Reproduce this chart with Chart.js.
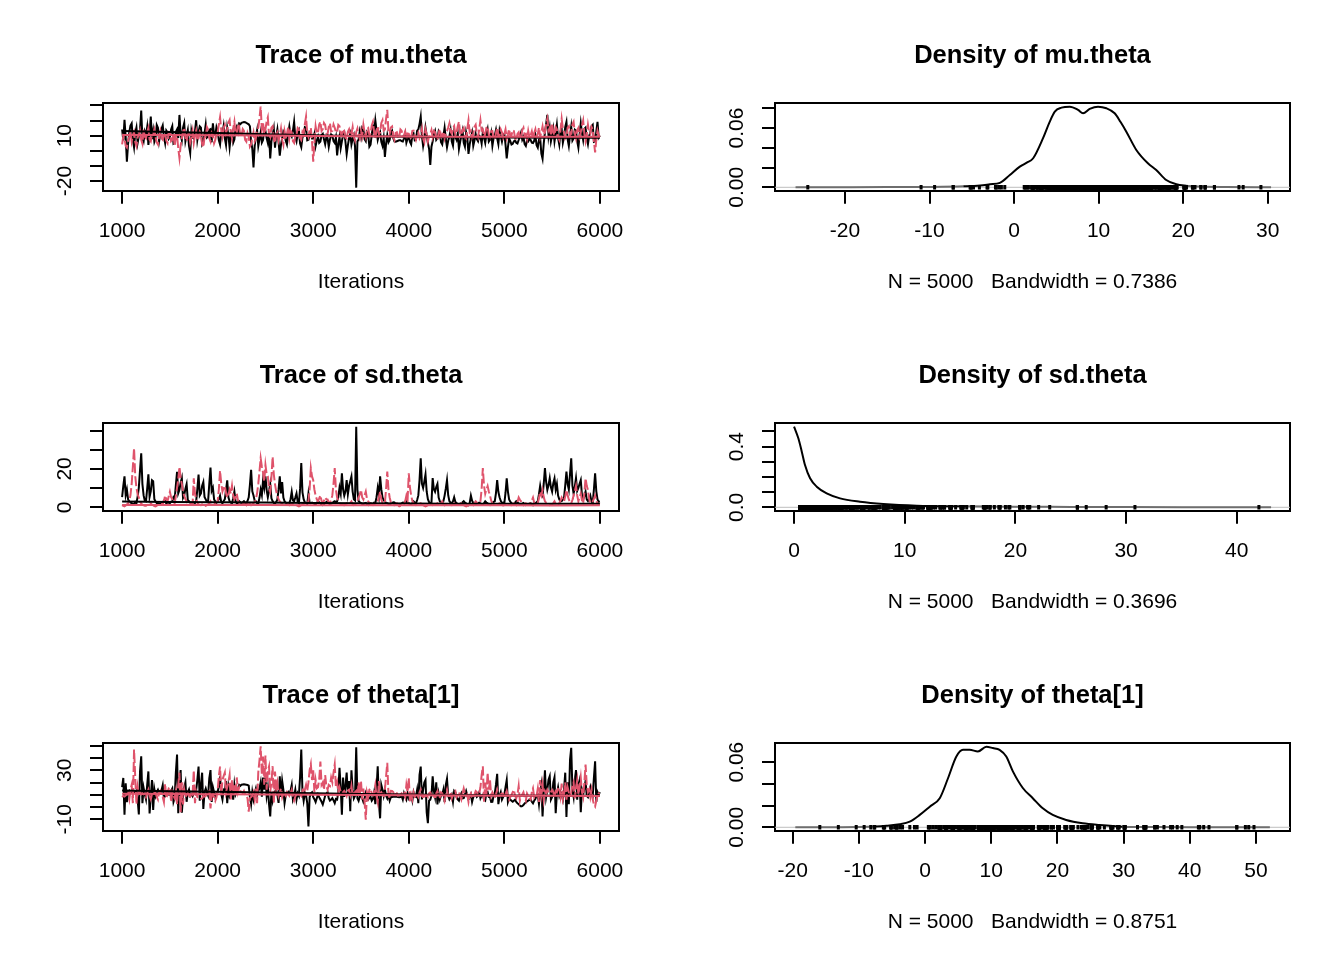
<!DOCTYPE html>
<html>
<head>
<meta charset="utf-8">
<script src="https://cdn.jsdelivr.net/npm/chart.js@4.4.1/dist/chart.umd.min.js"></script>
<style>
html,body{margin:0;padding:0;background:#fff;}
body{width:1344px;height:960px;position:relative;overflow:hidden;}
.p{position:absolute;}
.p canvas{display:block;}
</style>
</head>
<body>
<div class="p" style="left:0;top:0;width:722px;height:320px"><canvas id="c1"></canvas></div>
<div class="p" style="left:721px;top:0;width:623px;height:320px"><canvas id="c2"></canvas></div>
<div class="p" style="left:0;top:320px;width:722px;height:320px"><canvas id="c3"></canvas></div>
<div class="p" style="left:721px;top:320px;width:623px;height:320px"><canvas id="c4"></canvas></div>
<div class="p" style="left:0;top:640px;width:722px;height:320px"><canvas id="c5"></canvas></div>
<div class="p" style="left:721px;top:640px;width:623px;height:320px"><canvas id="c6"></canvas></div>
<script>
// ---------------- DATA ----------------
const ITER_FIRST = 1000;
const ITER_STEP = 12.5;
const TRACE_X_TICKS = [1000, 2000, 3000, 4000, 5000, 6000];
const SMOOTH_X = [1000, 2000, 3000, 4000, 5000, 6000];

// mu.theta traces (chain 1 black, chain 2 red)
const MU_CHAIN1 = [
14.2,6.8,20.4,9.1,-7.2,4.6,12.3,16.7,18.1,7.4,2.3,11.8,15.4,5.2,9.6,13.9,26.6,8.3,6.1,12.7,
10.4,15.8,3.9,11.2,22.6,7.7,13.3,5.9,8.2,17.1,15.3,6.4,11.1,14.6,16.8,9.3,5.1,13.4,12.2,7.9,
9.2,14.1,16.3,4.8,5.4,12.6,14.2,8.5,23.7,10.9,7.1,15.2,18.3,6.3,10.1,13.7,3.2,-1.5,13.1,8.8,
8.1,12.9,20.2,7.3,12.4,16.1,15.2,4.4,6.2,11.5,17.3,8.7,9.4,13.8,14.3,5.6,18.2,10.6,10.3,15.7,
13.2,6.9,4.1,11.7,11.3,16.4,8.2,3.8,15.1,10.2,2.2,9.8,12.1,5.3,7.4,14.6,16.2,12.8,18.1,17.6,
18.5,18.8,19.0,18.9,18.4,18.0,17.5,16.2,6.1,1.4,-11.0,3.3,9.2,13.6,3.1,7.8,12.2,5.4,7.1,14.4,
13.1,8.4,5.2,11.6,-5.1,6.2,10.3,14.7,2.1,9.6,14.2,5.7,-3.2,3.9,8.3,12.8,11.4,6.6,4.2,10.9,
16.1,10.7,9.3,13.2,19.1,8.9,6.2,11.4,13.4,4.7,2.3,8.8,10.2,15.6,15.3,6.9,7.2,10.6,12.3,8.1,
8.2,11.3,3.1,6.7,9.3,5.2,6.1,10.4,11.2,7.6,4.3,9.1,8.4,2.6,7.3,10.8,10.1,6.4,5.2,8.9,
-3.1,4.4,9.2,1.7,6.3,10.6,12.1,5.8,-2.2,3.6,8.3,11.2,4.1,7.7,10.2,2.9,-24.4,6.2,7.4,12.9,
9.1,15.3,14.2,7.6,6.3,12.4,11.2,2.8,4.1,10.7,16.2,12.6,20.1,13.3,7.2,10.4,12.2,5.9,3.3,8.6,
-4.1,4.7,10.3,5.6,7.2,12.1,13.3,8.4,6.2,6.0,6.3,6.6,6.9,7.0,6.4,6.1,8.2,11.4,5.3,7.9,
9.3,5.8,4.2,10.1,11.4,6.9,7.3,13.2,14.1,17.8,22.6,9.7,3.2,8.1,15.3,10.2,5.1,1.3,-9.4,2.7,
6.2,10.8,13.1,7.2,8.3,12.9,11.3,5.6,4.2,9.7,15.2,8.1,2.3,6.6,9.4,13.7,6.1,3.4,12.3,9.2,
7.3,11.6,1.2,5.8,10.1,13.4,5.2,2.7,12.2,8.6,-2.1,4.3,8.2,11.9,3.3,6.8,11.2,7.7,6.3,9.9,
9.1,4.8,12.3,8.7,5.2,10.9,14.2,6.1,7.3,11.6,3.2,8.4,10.1,13.8,8.3,4.4,13.2,9.6,6.1,10.3,
11.2,4.1,-5.1,2.3,8.2,6.4,4.1,4.6,6.2,6.9,5.3,4.8,7.1,9.6,12.2,7.3,9.1,4.4,3.2,6.7,
6.1,7.8,7.2,5.3,5.1,6.6,10.2,3.7,2.1,7.4,8.3,-1.8,-5.2,4.9,12.1,17.6,23.7,9.8,15.2,6.3,
10.2,14.6,6.1,11.3,17.2,8.4,4.1,12.7,14.3,5.3,9.2,15.8,19.1,7.6,3.2,10.4,16.1,6.7,8.2,13.9,
13.2,6.4,2.1,10.6,18.2,11.7,7.1,14.4,15.3,8.2,4.3,9.8,12.1,16.3,17.2,5.9,6.2,12.6,19.1,8.8,
10.1];
const MU_CHAIN2 = [
4.2,9.6,8.1,3.3,2.2,6.8,9.3,12.6,6.1,10.2,12.4,5.7,3.1,8.9,10.2,13.3,7.2,4.6,14.1,9.4,
8.3,12.2,15.1,7.4,6.2,10.8,11.3,14.2,9.1,5.6,4.2,9.9,13.1,8.2,7.3,11.6,10.3,6.7,5.1,12.4,
12.1,6.3,7.2,11.4,3.1,9.7,10.2,1.6,-4.8,3.4,8.1,12.7,15.2,8.6,6.3,10.9,11.2,5.4,9.1,13.2,
5.2,10.1,13.3,6.7,8.2,12.6,11.1,4.3,2.2,8.9,9.3,15.7,14.1,8.2,6.1,11.8,10.4,4.9,7.2,11.3,
12.2,17.4,22.1,13.6,9.3,15.2,17.1,11.8,14.2,18.6,20.3,12.1,8.2,14.7,19.2,10.6,11.3,17.9,16.1,9.8,
10.2,14.3,13.1,7.2,6.1,11.7,9.3,2.8,4.2,8.6,12.1,6.3,8.2,13.6,15.3,21.4,29.2,14.1,18.3,11.2,
14.2,19.3,22.1,10.2,9.1,15.3,16.2,7.4,5.1,10.9,12.3,6.8,10.1,14.6,7.2,3.9,13.1,9.4,11.2,15.7,
8.2,13.3,12.1,6.4,5.2,9.8,10.3,15.1,14.2,8.3,7.1,12.6,11.2,17.8,22.6,11.3,9.2,13.9,15.1,6.2,
-7.2,5.3,16.1,11.4,12.2,17.3,19.2,13.1,14.3,18.4,17.2,11.6,11.1,15.8,18.2,12.7,13.1,17.4,15.2,12.3,
12.2,17.1,16.3,11.2,10.1,14.4,13.2,8.7,8.1,12.6,14.2,10.3,11.1,15.6,9.2,6.8,12.3,14.7,10.1,7.9,
13.1,9.6,17.2,12.3,9.1,14.8,15.2,10.4,11.3,16.7,19.1,12.2,8.1,13.6,16.2,10.9,12.1,18.3,20.2,13.4,
14.1,21.2,27.1,12.3,11.2,15.4,16.1,9.2,7.1,11.8,12.2,8.6,9.3,14.1,13.2,9.7,10.3,12.8,8.2,11.4,
11.2,7.4,9.1,13.2,13.3,9.6,7.2,10.3,12.1,8.3,10.2,14.6,8.1,5.7,14.2,10.8,6.1,9.4,11.1,13.7,
9.2,13.1,12.2,8.3,7.1,11.6,14.3,9.2,10.1,12.7,8.2,11.9,13.1,15.4,18.2,12.6,11.2,14.9,16.3,10.7,
12.1,16.2,19.2,11.7,10.3,13.8,15.1,9.4,8.2,14.6,20.1,12.2,13.2,9.1,11.3,15.8,17.2,11.4,9.1,14.3,
20.2,13.4,14.1,9.3,11.2,15.2,16.1,10.7,9.2,12.9,13.1,8.4,7.2,11.6,15.3,9.8,10.2,14.1,12.2,8.7,
11.1,14.2,8.2,10.9,14.3,9.6,10.2,13.7,13.1,8.4,7.1,11.2,12.2,8.9,9.3,13.6,15.2,10.4,11.1,7.8,
13.2,9.1,10.2,12.8,8.3,11.7,14.2,9.6,11.1,15.3,9.2,12.4,16.1,10.8,12.2,17.6,21.1,13.4,15.2,10.1,
18.2,12.1,10.3,15.6,14.1,9.2,7.3,13.4,21.1,14.8,12.2,8.1,9.3,15.2,16.1,10.4,11.2,17.3,19.1,11.6,
8.2,13.7,15.1,9.4,12.2,16.8,20.1,11.3,6.2,10.6,17.2,12.1,11.3,15.8,14.2,6.3,-1.1,7.4,13.2,10.2,
9.1];
const MU_SMOOTH1 = [13.1, 11.8, 10.2, 9.3, 8.8, 8.6];
const MU_SMOOTH2 = [10.5, 10.3, 9.8, 9.4, 9.2, 9.2];

// sd.theta traces
const SD_CHAIN1 = [
5.3,11.2,16.1,6.3,9.2,4.1,3.1,2.4,2.2,1.7,1.5,2.8,2.1,5.6,10.3,19.4,28.2,12.1,6.2,3.4,
3.1,9.8,17.2,5.4,8.3,14.1,13.6,4.2,3.1,2.2,2.1,1.8,1.5,2.3,2.6,3.4,3.2,1.9,2.1,2.7,
2.2,2.9,3.1,5.2,4.3,11.6,18.5,7.3,9.1,12.8,15.2,4.9,6.2,9.7,12.1,3.8,3.2,2.4,2.1,2.6,
2.5,2.2,3.1,9.6,17.1,6.1,7.2,11.3,13.2,5.4,4.1,2.8,3.2,12.4,20.7,8.6,10.2,4.1,3.1,2.3,
3.2,4.3,6.1,2.7,2.1,3.3,4.2,8.9,14.1,5.2,3.1,2.4,2.2,4.6,8.2,3.1,2.1,1.8,3.2,2.6,
2.1,2.6,3.2,2.4,2.1,3.3,5.2,11.7,19.5,8.3,6.1,3.4,3.1,2.2,2.1,4.8,9.2,6.3,14.1,10.2,
16.2,9.1,5.2,8.4,12.1,4.7,3.2,2.3,2.1,2.8,4.1,9.3,16.1,7.2,13.2,5.1,3.1,2.4,2.2,1.8,
2.1,4.2,8.1,3.6,3.2,5.1,7.2,2.8,2.1,9.6,23.1,7.8,4.2,2.6,2.1,1.7,7.2,2.2,2.1,2.4,
2.1,1.8,1.5,2.3,3.1,2.6,2.2,1.3,1.1,1.6,2.2,2.7,3.1,2.1,1.6,1.9,2.1,2.9,3.2,2.4,
3.1,5.2,10.2,7.1,17.7,9.4,6.1,8.3,14.2,6.8,11.1,13.6,16.1,8.2,4.2,3.6,42.0,9.1,3.2,2.6,
2.2,1.7,1.5,2.1,2.3,1.4,1.1,1.6,2.1,1.8,1.5,2.4,2.2,5.3,10.1,6.2,16.1,9.3,5.2,3.6,
3.1,2.3,2.1,1.7,1.5,1.9,2.2,2.6,2.5,1.8,1.5,1.2,1.1,1.6,2.1,2.4,2.2,2.8,3.1,2.3,
2.1,1.8,1.5,2.2,3.1,2.4,2.1,3.8,6.2,14.1,25.6,12.3,10.1,13.4,17.2,8.1,4.2,2.7,2.1,2.5,
15.2,9.4,8.1,10.6,12.2,5.1,3.1,2.4,2.1,3.2,6.1,9.8,14.2,6.3,3.2,2.4,2.1,3.1,5.2,2.8,
2.2,1.8,1.5,1.9,2.1,2.6,3.2,2.4,2.1,1.4,1.1,2.3,6.1,3.4,2.2,1.7,1.5,1.9,2.1,2.4,
2.1,1.7,1.5,2.2,3.1,2.5,2.1,1.4,1.1,1.6,2.2,2.8,3.1,7.4,14.2,8.1,5.2,3.3,2.1,2.4,
2.1,7.6,15.1,8.2,4.1,2.9,2.2,1.8,1.5,2.4,3.2,2.6,2.1,1.7,1.5,1.9,2.2,1.6,1.1,1.4,
1.6,1.9,2.1,1.4,1.1,1.7,2.2,2.6,3.1,6.8,11.2,7.4,6.1,12.3,20.4,13.2,9.1,11.6,15.2,10.4,
8.2,12.6,15.1,9.3,12.2,6.1,4.2,3.1,3.2,4.1,5.1,11.4,18.6,12.1,9.2,17.4,25.6,11.3,7.1,10.8,
15.2,8.6,10.1,12.3,14.2,6.3,4.1,5.9,8.2,4.1,3.2,4.4,6.1,3.1,2.2,9.4,17.7,8.3,4.1,2.9,
3.1];
const SD_CHAIN2 = [
1.1,0.7,0.5,0.9,1.5,2.1,3.2,6.4,12.1,21.3,30.8,16.2,10.1,6.8,5.1,2.9,2.1,1.3,1.1,0.8,
0.8,1.2,1.5,2.3,2.1,1.4,1.1,0.6,0.5,0.9,1.1,1.6,2.1,1.8,1.5,3.2,6.1,4.2,3.1,5.6,
8.1,5.3,4.2,2.6,2.1,5.7,10.2,14.6,21.1,15.3,12.2,8.4,6.1,4.3,3.1,1.8,1.1,1.4,2.1,1.6,
15.1,7.2,4.1,2.3,1.5,1.2,1.1,1.6,2.1,1.3,0.8,1.1,1.5,2.2,3.1,1.7,1.1,1.4,2.1,2.6,
3.1,9.4,19.1,12.3,8.2,10.1,11.2,7.3,5.1,6.6,9.2,7.1,11.3,6.2,4.1,5.3,7.2,3.4,2.1,2.6,
1.6,1.3,2.1,1.6,1.1,2.2,3.1,1.8,1.1,1.5,2.2,2.8,4.1,7.3,12.2,18.6,25.6,21.2,18.1,13.4,
22.1,17.3,16.2,9.8,8.1,15.6,26.4,17.2,12.1,8.3,6.2,4.1,3.1,2.4,2.1,1.4,1.1,1.3,1.5,1.8,
1.1,1.6,2.1,1.7,1.5,1.2,1.1,0.7,0.5,0.8,1.1,1.4,2.1,1.8,1.5,2.2,3.1,9.6,20.4,16.1,
14.1,9.2,6.1,4.2,3.1,4.6,6.2,3.3,2.1,3.4,5.1,4.2,4.1,2.6,2.1,3.8,6.2,12.4,20.4,9.3,
5.1,3.2,2.1,1.7,1.5,1.2,1.1,1.6,2.1,1.8,1.5,2.3,3.1,1.6,1.1,1.4,2.1,3.3,5.1,6.8,
9.1,5.2,4.1,6.3,8.2,4.4,3.1,2.3,2.1,1.4,1.1,1.6,2.1,2.7,3.1,5.4,8.1,4.2,2.1,1.7,
2.1,9.8,18.6,9.2,5.1,2.6,1.5,1.2,1.1,1.6,2.1,1.1,0.5,0.8,1.1,1.3,1.5,3.2,6.1,3.9,
17.7,10.2,6.1,3.3,2.1,1.6,1.1,1.3,1.5,1.9,2.1,1.4,1.1,0.7,0.5,0.8,1.1,1.6,2.1,1.5,
1.1,1.3,1.5,1.8,2.1,1.5,1.1,2.2,3.1,1.7,1.1,1.4,2.1,1.8,1.5,1.2,1.1,1.6,2.1,1.4,
1.5,1.2,1.1,1.6,2.1,1.5,1.1,0.7,0.5,0.8,1.1,1.6,2.1,1.4,1.1,2.2,3.1,2.5,2.1,2.6,
3.1,9.6,20.4,11.2,7.1,9.3,11.1,8.2,6.1,3.4,2.1,1.4,1.1,1.3,1.5,1.8,2.1,1.4,1.1,0.9,
1.1,1.6,2.1,1.8,1.5,1.2,1.1,1.6,2.1,1.4,1.1,2.8,5.1,3.9,3.1,1.8,1.1,1.4,2.1,1.7,
1.5,1.8,2.1,3.6,5.1,2.4,1.1,1.6,2.1,4.8,8.1,6.2,9.1,5.3,3.1,2.4,2.1,1.5,1.1,1.3,
1.5,2.2,3.1,1.8,1.1,1.6,2.1,3.4,5.1,3.9,3.1,5.8,9.1,6.2,4.1,2.6,2.1,3.8,6.1,8.4,
11.1,6.2,3.1,5.2,7.1,3.6,2.1,7.4,15.1,11.2,9.1,4.3,2.1,2.6,3.1,4.4,6.1,3.2,2.1,1.7,
1.5];
const SD_SMOOTH1 = [3.0, 2.6, 2.3, 2.0, 1.8, 1.8];
const SD_SMOOTH2 = [1.2, 1.2, 1.1, 1.1, 1.0, 1.0];

// theta[1] traces
const TH_CHAIN1 = [
16.2,23.8,-6.3,19.4,4.1,12.2,13.4,11.8,12.1,12.6,12.4,11.9,13.1,6.2,-6.1,29.3,41.5,3.2,15.7,10.4,
6.3,18.2,29.1,-5.2,8.4,22.1,-2.3,14.6,9.1,12.3,14.2,11.6,11.2,13.8,17.9,7.2,9.4,12.6,13.1,10.2,
10.1,13.4,15.2,4.2,7.6,28.4,42.9,-5.1,20.3,30.2,-4.6,8.3,16.1,20.2,4.3,12.1,14.4,9.2,10.6,8.9,
11.2,12.8,14.1,22.3,33.1,5.2,18.4,28.1,-1.6,12.2,15.1,11.4,9.3,23.6,30.2,4.1,16.3,12.1,8.2,10.9,
12.3,17.2,25.1,10.6,6.2,14.1,13.2,21.3,3.2,16.4,9.1,11.8,14.3,6.1,18.2,10.2,12.6,15.1,18.1,17.3,
18.3,18.5,18.6,18.4,18.2,18.0,17.5,8.2,2.1,12.3,6.2,11.4,15.2,9.6,13.1,15.3,20.2,8.4,24.1,14.2,
24.2,9.3,16.1,2.4,-7.6,12.1,5.3,11.2,12.6,14.1,9.8,3.4,25.1,8.2,21.4,14.3,3.2,9.6,11.1,12.4,
10.1,13.2,18.1,6.2,9.3,14.2,6.1,11.3,9.2,24.6,47.1,12.2,5.1,11.6,9.4,3.2,-15.9,8.1,11.2,12.1,
8.2,6.4,4.1,7.2,10.3,8.1,6.2,4.3,2.1,5.6,9.2,10.8,12.1,7.3,5.2,6.1,7.3,5.4,3.2,6.6,
6.1,12.2,32.1,16.3,-6.2,24.1,8.3,17.4,28.2,10.1,21.3,-3.4,30.1,14.2,7.1,9.3,48.9,7.2,5.1,8.4,
9.1,7.3,4.2,6.8,11.3,8.2,6.1,7.4,8.3,5.2,6.6,12.1,2.3,14.6,33.3,3.1,-9.2,18.1,14.2,9.1,
14.1,9.2,7.1,10.2,5.2,8.1,8.3,8.4,8.5,8.6,8.5,8.3,8.1,8.2,9.1,6.2,11.3,8.4,6.1,11.2,
7.2,9.4,10.1,5.3,12.1,8.6,8.2,14.1,3.2,26.4,33.1,6.2,14.1,20.1,22.2,-4.3,-13.1,5.2,6.1,9.3,
25.1,13.2,8.1,20.2,2.1,11.3,6.2,9.4,10.1,14.2,4.1,18.2,23.1,9.2,6.3,8.1,10.2,4.3,13.2,12.1,
8.1,6.3,5.2,9.1,11.2,7.1,7.3,10.2,13.1,9.4,6.2,8.1,10.3,4.2,8.2,9.1,11.4,8.3,9.2,12.1,
7.2,9.3,10.1,6.2,5.3,11.4,12.2,8.3,8.1,4.2,4.3,9.1,11.2,18.3,27.1,2.4,9.2,12.1,6.1,8.2,
10.2,16.3,22.1,4.2,7.1,6.2,5.1,4.3,5.2,6.1,4.2,3.1,2.4,1.2,0.6,0.8,1.6,2.9,3.8,4.6,
5.2,5.8,6.1,4.3,3.1,5.2,6.8,9.2,10.1,2.3,12.3,18.1,-7.7,12.2,30.1,8.2,14.1,22.3,25.2,6.1,
8.2,20.1,24.3,-5.1,11.2,16.2,9.1,12.3,10.2,6.1,14.2,28.1,-8.2,20.3,2.4,38.8,48.4,14.2,8.3,22.1,
30.2,6.1,18.2,22.1,-4.3,14.2,10.1,15.3,21.4,9.2,8.1,12.3,16.2,11.1,9.3,24.1,37.4,4.2,12.3,10.1,
12.2];
const TH_CHAIN2 = [
8.2,9.1,8.6,9.4,10.2,11.3,6.4,14.2,18.1,3.2,47.1,24.2,2.3,16.1,9.2,12.1,10.3,11.2,10.4,11.1,
8.3,11.2,14.1,9.2,6.3,10.4,10.1,12.3,11.8,8.2,6.1,12.2,13.4,9.1,8.3,4.2,19.1,7.3,10.2,15.4,
16.1,4.2,12.1,9.3,7.2,13.1,2.3,18.2,28.1,-4.2,20.3,2.1,14.2,8.3,10.1,11.2,9.4,8.6,11.3,10.2,
30.1,3.2,12.2,8.1,7.3,6.2,6.8,7.1,9.2,8.6,9.1,10.2,12.4,13.1,-1.2,9.2,10.1,8.3,5.2,8.1,
14.1,25.2,33.1,10.2,22.1,25.3,28.2,12.1,16.2,20.1,26.1,6.2,22.3,14.1,18.2,9.1,24.2,12.3,16.1,13.2,
12.2,11.4,13.1,10.2,9.1,7.2,-3.8,7.3,8.2,9.3,12.1,6.2,15.1,3.2,28.3,38.1,49.7,26.2,41.3,18.2,
42.1,14.2,29.3,33.1,12.2,20.1,33.4,3.2,29.1,15.2,20.1,9.2,12.1,15.3,8.2,11.4,10.2,9.1,12.3,11.2,
9.2,11.3,14.1,8.2,5.3,8.6,10.2,11.3,12.1,10.4,9.1,12.6,16.2,14.1,18.1,13.2,20.1,30.2,35.1,22.1,
30.1,12.2,22.1,15.3,16.2,22.4,37.1,18.2,20.1,14.2,26.1,17.3,14.2,18.1,17.2,24.1,20.1,28.2,34.7,16.1,
20.2,12.1,16.2,12.3,11.2,12.1,13.2,11.6,9.1,13.4,14.2,10.1,17.2,9.8,11.3,12.1,13.2,8.1,20.1,10.2,
21.1,6.2,15.1,4.2,-10.4,12.1,8.2,14.1,15.2,11.1,9.8,12.2,18.1,9.2,4.1,21.2,11.3,12.2,10.1,9.2,
14.1,25.2,36.1,10.2,7.1,13.2,13.1,12.2,9.1,10.3,11.2,9.4,10.1,10.3,11.2,9.6,11.1,8.2,18.1,12.1,
23.8,4.2,10.1,6.2,12.1,8.4,9.1,10.2,8.3,12.1,14.2,9.1,8.2,8.6,9.1,9.3,8.2,11.3,12.1,10.2,
10.1,9.2,6.3,11.2,13.1,9.1,8.2,12.1,11.3,8.2,5.1,10.3,14.1,9.2,9.1,12.3,7.2,10.1,12.2,13.1,
8.1,10.2,12.3,9.1,6.2,11.1,15.2,11.3,9.2,10.3,4.1,9.1,11.2,8.1,7.2,10.3,13.1,12.2,10.1,11.2,
16.2,26.1,33.3,4.2,20.1,10.2,28.1,14.2,22.1,9.3,12.1,10.2,7.2,10.1,14.1,9.2,9.1,10.3,11.2,10.8,
8.1,10.2,13.1,9.2,6.1,8.3,10.1,12.2,14.1,9.1,7.2,10.1,17.2,5.1,9.3,10.2,12.1,8.1,5.2,11.1,
9.1,7.2,6.1,12.1,15.3,8.2,10.1,9.2,15.1,4.2,22.1,10.1,18.2,6.1,13.1,11.2,14.2,12.1,11.1,12.3,
14.1,12.2,8.1,13.1,12.2,15.1,16.2,9.1,19.1,6.2,10.1,20.2,6.1,16.1,12.1,9.2,12.1,17.1,20.2,7.1,
15.2,22.1,10.2,16.2,24.1,12.2,8.1,20.2,34.7,18.1,12.1,14.3,8.2,14.1,6.1,2.2,0.5,5.1,9.1,11.2,
11.1];
const TH_SMOOTH1 = [13.5, 12.5, 11.3, 10.2, 9.5, 9.2];
const TH_SMOOTH2 = [10.8, 10.5, 10.1, 9.7, 9.3, 9.0];

// density curves
const MU_DENS_X = [-25.85,-20,-15,-10,-6,-4,-2.85,-1.68,-0.5,0.68,1.5,2.26,3.44,4.2,4.82,5.61,6.59,7.57,8.16,8.95,9.93,10.92,11.9,12.6,13.28,14.46,15.83,16.82,18.0,19.19,20.37,22,25,30.4];
const MU_DENS_Y = [0,0.0001,0.0002,0.0004,0.001,0.0018,0.003,0.0045,0.0125,0.0209,0.025,0.0294,0.05,0.066,0.0766,0.0806,0.0816,0.0783,0.0749,0.0793,0.0816,0.08,0.0749,0.066,0.0563,0.0378,0.0243,0.0175,0.0074,0.003,0.0016,0.0008,0.0003,0];
const SD_DENS_X = [0,0.39,0.7,0.99,1.45,2.05,2.95,4.16,5.96,8.07,11.08,15.6,20,25,30,35,43.1];
const SD_DENS_Y = [0.532,0.455,0.367,0.279,0.191,0.136,0.092,0.059,0.037,0.022,0.011,0.007,0.004,0.0025,0.0012,0.0006,0];
const TH_DENS_X = [-19.6,-15,-10,-7.5,-5.82,-3.81,-2.31,-0.8,0.71,2.22,3.47,4.73,5.73,6.74,7.99,9.26,10.25,11.26,12.27,13.27,14.77,16.28,17.79,19.3,21.32,23.82,26.34,29.8,35,42,52.1];
const TH_DENS_Y = [0,0.0001,0.0003,0.0008,0.0015,0.0028,0.0052,0.0114,0.019,0.0268,0.0452,0.0652,0.0714,0.0714,0.0699,0.0742,0.073,0.0714,0.0652,0.0515,0.0362,0.0268,0.0175,0.0114,0.0068,0.0037,0.0021,0.0006,0.0002,0.0001,0];

// axis ticks & labels
const MU_TRACE_Y_TICKS = [-20,-10,0,10,20,30];
const MU_TRACE_Y_LABELS = {"-20":"-20","10":"10"};
const SD_TRACE_Y_TICKS = [0,10,20,30,40];
const SD_TRACE_Y_LABELS = {"0":"0","20":"20"};
const TH_TRACE_Y_TICKS = [-10,0,10,20,30,40,50];
const TH_TRACE_Y_LABELS = {"-10":"-10","30":"30"};
const MU_DENS_X_TICKS = [-20,-10,0,10,20,30];
const MU_DENS_Y_TICKS = [0,0.02,0.04,0.06,0.08];
const MU_DENS_Y_LABELS = {"0":"0.00","0.06":"0.06"};
const SD_DENS_X_TICKS = [0,10,20,30,40];
const SD_DENS_Y_TICKS = [0,0.1,0.2,0.3,0.4,0.5];
const SD_DENS_Y_LABELS = {"0":"0.0","0.4":"0.4"};
const TH_DENS_X_TICKS = [-20,-10,0,10,20,30,40,50];
const TH_DENS_Y_TICKS = [0,0.02,0.04,0.06];
const TH_DENS_Y_LABELS = {"0":"0.00","0.06":"0.06"};

// ---------------- STYLE / LAYOUT ----------------
const FAMILY = "'Liberation Sans', Arial, Helvetica, sans-serif";
Chart.defaults.font.family = FAMILY;
Chart.defaults.color = '#000';
const FONT_AX = 21, FONT_TITLE = 25.5, TICK_LEN = 13, LW = 2, TRACE_LW = 2;
const LABEL_CENTER_OFFSET = 38;
const RED = '#DF536B';

const mctx = document.createElement('canvas').getContext('2d');
function widestLabel(labels) {
  mctx.font = FONT_AX + 'px ' + FAMILY;
  let w = 0;
  labels.forEach(l => { if (l) w = Math.max(w, mctx.measureText(l).width); });
  return w;
}
const xy = (xs, ys) => xs.map((x, i) => ({x: x, y: ys[i]}));
const traceXY = ys => ys.map((y, i) => ({x: ITER_FIRST + i * ITER_STEP, y: y}));

function makePanel(id, o) {
  const sideW = o.col === 0 ? 103 : 54;
  const yLabelList = o.yTicks.map(v => o.yLabels[String(v)] || '');
  const yPad = LABEL_CENTER_OFFSET - TICK_LEN - widestLabel(yLabelList) / 2;
  const boxAxis = {
    display: true, ticks: {display: false},
    grid: {display: false, drawTicks: false, drawOnChartArea: false},
    border: {display: true, color: '#000', width: LW}
  };
  new Chart(document.getElementById(id), {
    type: 'line',
    data: {datasets: o.datasets},
    options: {
      responsive: true, maintainAspectRatio: false, animation: false, events: [],
      layout: {padding: {left: 0, right: 0, top: 0, bottom: 25.4}},
      plugins: {
        legend: {display: false}, tooltip: {enabled: false},
        title: {display: true, text: o.title, color: '#000',
          font: {size: FONT_TITLE, weight: 'bold', lineHeight: 1.2},
          padding: {top: 40.7, bottom: 31.9}}
      },
      scales: {
        x: {
          type: 'linear', position: 'bottom', min: o.xMin, max: o.xMax,
          afterBuildTicks: s => { s.ticks = o.xTicks.map(v => ({value: v})); },
          afterFit: s => { s.height = 103.9; },
          ticks: {autoSkip: false, maxRotation: 0, minRotation: 0, padding: 15,
            font: {size: FONT_AX}, color: '#000', callback: v => String(v)},
          grid: {display: true, drawOnChartArea: false, drawTicks: true, tickLength: TICK_LEN,
            color: '#000', lineWidth: LW, tickWidth: LW},
          border: {display: true, color: '#000', width: LW},
          title: {display: true, text: o.xTitle, color: '#000', font: {size: FONT_AX}, padding: 0}
        },
        y: {
          type: 'linear', position: 'left', min: o.yMin, max: o.yMax,
          afterBuildTicks: s => { s.ticks = o.yTicks.map(v => ({value: v})); },
          afterFit: s => { s.width = sideW; },
          ticks: {autoSkip: false, minRotation: 90, maxRotation: 90, crossAlign: 'center',
            padding: yPad, font: {size: FONT_AX}, color: '#000',
            callback: v => o.yLabels[String(v)] || ''},
          grid: {display: true, drawOnChartArea: false, drawTicks: true, tickLength: TICK_LEN,
            color: '#000', lineWidth: LW, tickWidth: LW},
          border: {display: true, color: '#000', width: LW}
        },
        x2: Object.assign({type: 'linear', position: 'top', min: o.xMin, max: o.xMax,
          afterFit: s => { s.height = 0; }}, boxAxis),
        y2: Object.assign({type: 'linear', position: 'right', min: o.yMin, max: o.yMax,
          afterFit: s => { s.width = sideW; }}, boxAxis)
      }
    }
  });
}

function traceDatasets(c1, c2, s1, s2) {
  return [
    {data: traceXY(c1), borderColor: '#000', borderWidth: TRACE_LW, pointRadius: 0, tension: 0, order: 4},
    {data: traceXY(c2), borderColor: RED, borderWidth: TRACE_LW, borderDash: [10, 3], pointRadius: 0, tension: 0, order: 3},
    {data: xy(SMOOTH_X, s1), borderColor: '#000', borderWidth: LW, pointRadius: 0, tension: 0.4, order: 2},
    {data: xy(SMOOTH_X, s2), borderColor: RED, borderWidth: LW, pointRadius: 0, tension: 0.4, order: 1}
  ];
}
function densDatasets(dx, dy, xMin, xMax, rug) {
  const thr = Math.max(...dy) * 0.02;
  return [
    {data: [{x: xMin, y: 0}, {x: xMax, y: 0}], borderColor: '#BEBEBE', borderWidth: 1, pointRadius: 0, order: 3},
    {data: xy(dx, dy), borderColor: '#000', borderWidth: LW, pointRadius: 0,
      cubicInterpolationMode: 'monotone', order: 2,
      segment: {borderColor: c => (c.p0.parsed.y < thr && c.p1.parsed.y < thr) ? '#6e6e6e' : '#000'}},
    {data: rug.map(v => ({x: v, y: 0})), showLine: false, pointStyle: 'line', pointRotation: 90,
      pointRadius: 2.2, pointBorderWidth: 3, pointBorderColor: '#000', borderColor: '#000', order: 1}
  ];
}

makePanel('c1', {col: 0, title: 'Trace of mu.theta', xTitle: 'Iterations',
  xMin: 800, xMax: 6200, xTicks: TRACE_X_TICKS,
  yMin: -26.42, yMax: 31.46, yTicks: MU_TRACE_Y_TICKS, yLabels: MU_TRACE_Y_LABELS,
  datasets: traceDatasets(MU_CHAIN1, MU_CHAIN2, MU_SMOOTH1, MU_SMOOTH2)});
makePanel('c2', {col: 1, title: 'Density of mu.theta', xTitle: 'N = 5000   Bandwidth = 0.7386',
  xMin: -28.28, xMax: 32.64, xTicks: MU_DENS_X_TICKS,
  yMin: -0.00344, yMax: 0.0851, yTicks: MU_DENS_Y_TICKS, yLabels: MU_DENS_Y_LABELS,
  datasets: densDatasets(MU_DENS_X, MU_DENS_Y, -28.28, 32.64, MU_CHAIN1.concat(MU_CHAIN2))});
makePanel('c3', {col: 0, title: 'Trace of sd.theta', xTitle: 'Iterations',
  xMin: 800, xMax: 6200, xTicks: TRACE_X_TICKS,
  yMin: -1.78, yMax: 43.86, yTicks: SD_TRACE_Y_TICKS, yLabels: SD_TRACE_Y_LABELS,
  datasets: traceDatasets(SD_CHAIN1, SD_CHAIN2, SD_SMOOTH1, SD_SMOOTH2)});
makePanel('c4', {col: 1, title: 'Density of sd.theta', xTitle: 'N = 5000   Bandwidth = 0.3696',
  xMin: -1.72, xMax: 44.81, xTicks: SD_DENS_X_TICKS,
  yMin: -0.0224, yMax: 0.5545, yTicks: SD_DENS_Y_TICKS, yLabels: SD_DENS_Y_LABELS,
  datasets: densDatasets(SD_DENS_X, SD_DENS_Y, -1.72, 44.81, SD_CHAIN1.concat(SD_CHAIN2))});
makePanel('c5', {col: 0, title: 'Trace of theta[1]', xTitle: 'Iterations',
  xMin: 800, xMax: 6200, xTicks: TRACE_X_TICKS,
  yMin: -19.33, yMax: 52.2, yTicks: TH_TRACE_Y_TICKS, yLabels: TH_TRACE_Y_LABELS,
  datasets: traceDatasets(TH_CHAIN1, TH_CHAIN2, TH_SMOOTH1, TH_SMOOTH2)});
makePanel('c6', {col: 1, title: 'Density of theta[1]', xTitle: 'N = 5000   Bandwidth = 0.8751',
  xMin: -22.67, xMax: 55.14, xTicks: TH_DENS_X_TICKS,
  yMin: -0.00314, yMax: 0.0775, yTicks: TH_DENS_Y_TICKS, yLabels: TH_DENS_Y_LABELS,
  datasets: densDatasets(TH_DENS_X, TH_DENS_Y, -22.67, 55.14, TH_CHAIN1.concat(TH_CHAIN2))});
</script>
</body>
</html>
